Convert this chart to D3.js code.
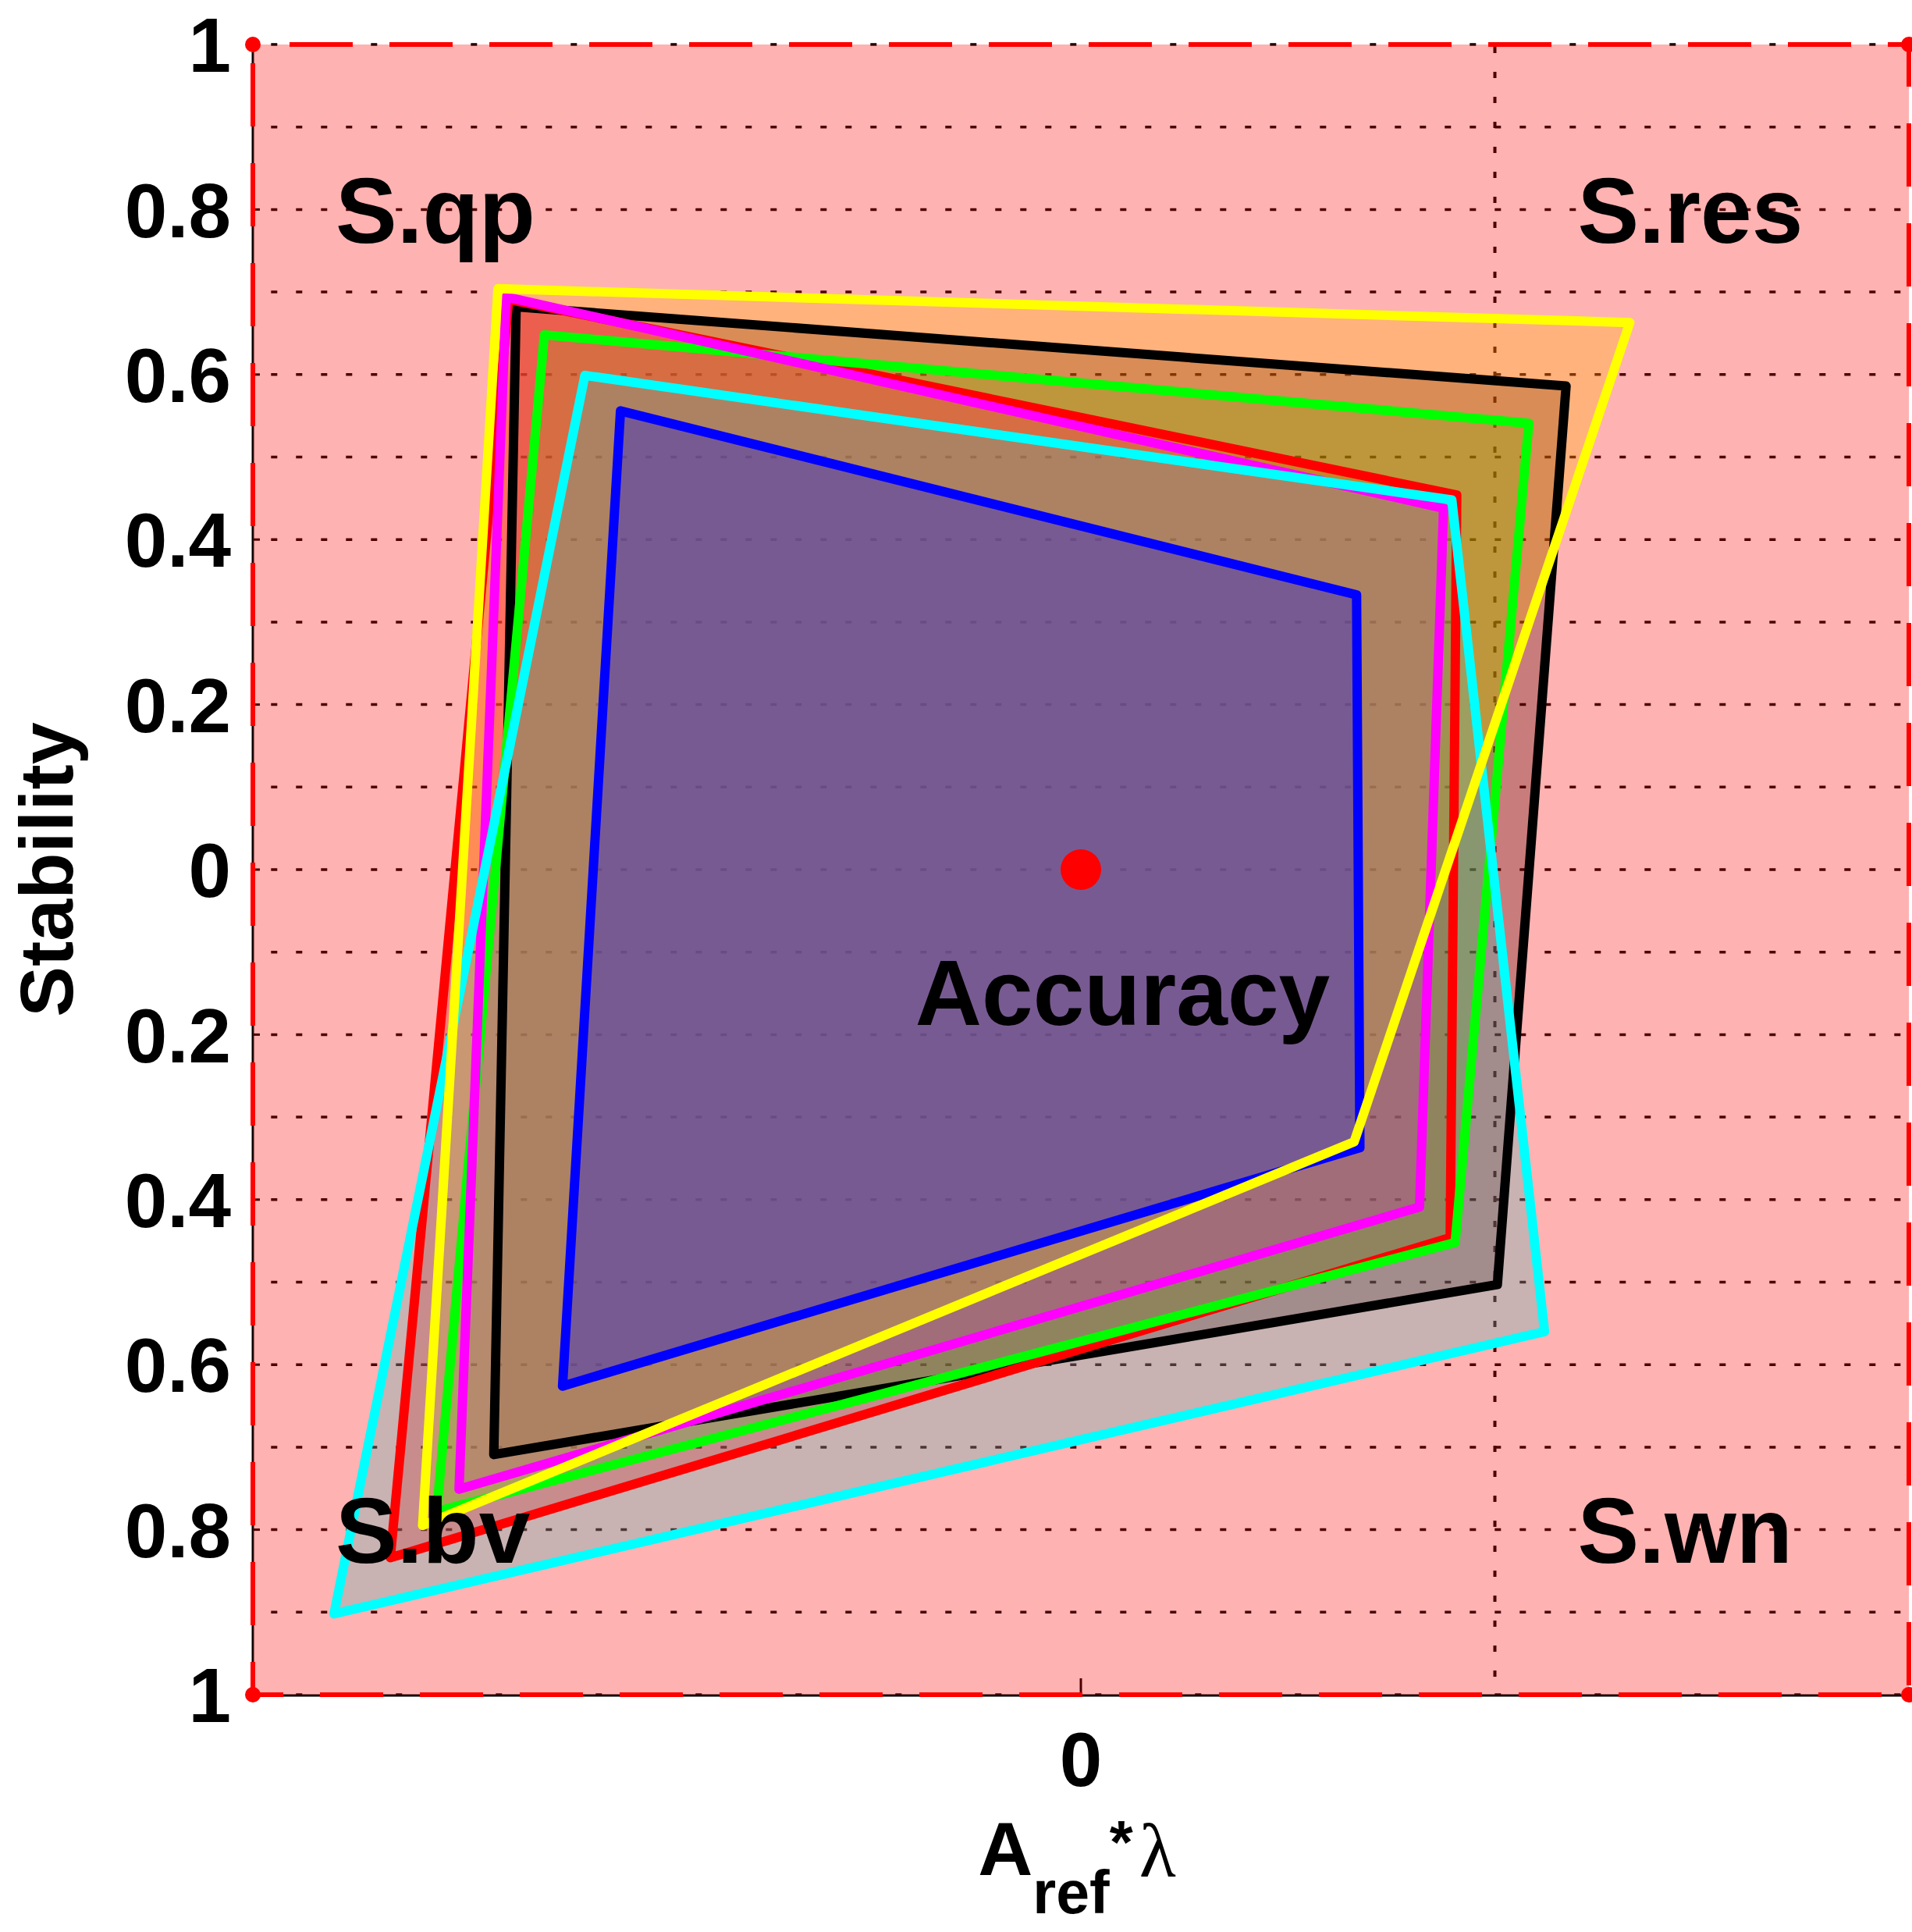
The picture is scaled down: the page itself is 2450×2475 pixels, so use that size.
<!DOCTYPE html>
<html>
<head>
<meta charset="utf-8">
<script src="https://cdn.jsdelivr.net/npm/d3@7"></script>
<style>
  html, body { margin: 0; padding: 0; background: #ffffff; }
  svg { display: block; }
  text { font-family: "Liberation Sans", Arial, sans-serif; }
</style>
</head>
<body>
<svg id="chart" width="2450" height="2475"></svg>
<script>
// ---------------- data ----------------
const axisNames   = ["S.qp", "S.res", "S.wn", "S.bv"];
const seriesColors = ["#000000", "#ff0000", "#ff00ff", "#00ff00", "#00ffff", "#0000ff", "#ffff00"];
const valuesQp  = [0.682, 0.691, 0.694, 0.648, 0.599, 0.556, 0.704];
const valuesRes = [0.586, 0.454, 0.438, 0.541, 0.448, 0.333, 0.663];
const valuesWn  = [0.503, 0.446, 0.409, 0.452, 0.560, 0.337, 0.330];
const valuesBv  = [0.709, 0.834, 0.751, 0.778, 0.902, 0.626, 0.795];
const yTicks      = [1, 0.8, 0.6, 0.4, 0.2, 0, -0.2, -0.4, -0.6, -0.8, -1];
const yTickLabels = ["1", "0.8", "0.6", "0.4", "0.2", "0", "0.2", "0.4", "0.6", "0.8", "1"];
const xTicks      = [0];
const xTickLabels = ["0"];
const yGrid = [1, 0.9, 0.8, 0.7, 0.6, 0.5, 0.4, 0.3, 0.2, 0.1, 0, -0.1, -0.2, -0.3, -0.4, -0.5, -0.6, -0.7, -0.8, -0.9, -1];
const xGrid = [0.5];

// drawing orders (indices into series)
const fillOrderUnder = [0, 1, 3, 2, 6, 4]; // fills below the translucent red square
const fillOrderOver  = [5];                // fills above it
const lineOrder = [0, 1, 3, 2, 4, 5, 6];

// ---------------- layout ----------------
const svg = d3.select("#chart");
const x = d3.scaleLinear().domain([-1, 1]).range([324, 2446]);
const y = d3.scaleLinear().domain([-1, 1]).range([2171, 57]);

// axis directions for each radar spoke (diagonals)
const dirs = [[-1, 1], [1, 1], [1, -1], [-1, -1]];
const series = seriesColors.map((c, i) => ({
  color: c,
  vals: [valuesQp[i], valuesRes[i], valuesWn[i], valuesBv[i]]
}));
const polyPoints = s => s.vals.map((v, k) => [x(dirs[k][0] * v), y(dirs[k][1] * v)]);
const line = d3.line().curve(d3.curveLinearClosed);

// grid (black, under translucent layers)
const g = svg.append("g");
g.selectAll("line.hg").data(yGrid).join("line")
  .attr("x1", x(-1)).attr("x2", x(1))
  .attr("y1", d => y(d)).attr("y2", d => y(d))
  .attr("stroke", "#000").attr("stroke-width", 3.5)
  .attr("stroke-dasharray", "8,24").attr("stroke-dashoffset", 8.7);
g.selectAll("line.vg").data(xGrid).join("line")
  .attr("x1", d => x(d)).attr("x2", d => x(d))
  .attr("y1", y(1)).attr("y2", y(-1))
  .attr("stroke", "#000").attr("stroke-width", 4)
  .attr("stroke-dasharray", "8,24").attr("stroke-dashoffset", -3);

// axis lines and ticks
g.append("line").attr("x1", x(-1)).attr("x2", x(-1)).attr("y1", y(1)).attr("y2", y(-1) + 1.5)
  .attr("stroke", "#000").attr("stroke-width", 3);
g.append("line").attr("x1", x(-1)).attr("x2", x(1)).attr("y1", y(-1) + 1).attr("y2", y(-1) + 1)
  .attr("stroke", "#000").attr("stroke-width", 3);
g.selectAll("line.yt").data(yTicks).join("line")
  .attr("x1", x(-1)).attr("x2", x(-1) + 9)
  .attr("y1", d => y(d)).attr("y2", d => y(d))
  .attr("stroke", "#000").attr("stroke-width", 3);
g.selectAll("line.xt").data(xTicks).join("line")
  .attr("x1", d => x(d)).attr("x2", d => x(d))
  .attr("y1", y(-1)).attr("y2", y(-1) - 21)
  .attr("stroke", "#000").attr("stroke-width", 3);

// polygon fills (under)
const fills = svg.append("g");
fillOrderUnder.forEach(i => {
  fills.append("path").attr("d", line(polyPoints(series[i])))
    .attr("fill", series[i].color).attr("fill-opacity", 0.3).attr("stroke", "none");
});

// big translucent red square
svg.append("path")
  .attr("d", line([[x(-1), y(1)], [x(1), y(1)], [x(1), y(-1)], [x(-1), y(-1)]]))
  .attr("fill", "#ff0000").attr("fill-opacity", 0.3);

// polygon fills (over)
const fills2 = svg.append("g");
fillOrderOver.forEach(i => {
  fills2.append("path").attr("d", line(polyPoints(series[i])))
    .attr("fill", series[i].color).attr("fill-opacity", 0.3).attr("stroke", "none");
});

// polygon outlines
const lines = svg.append("g");
lineOrder.forEach(i => {
  lines.append("path").attr("d", line(polyPoints(series[i])))
    .attr("fill", "none").attr("stroke", series[i].color)
    .attr("stroke-width", 12).attr("stroke-linejoin", "round").attr("stroke-linecap", "round");
});

// red dashed boundary with corner markers
const corners = [[-1, 1], [1, 1], [1, -1], [-1, -1]];
svg.append("path")
  .attr("d", line(corners.map(c => [x(c[0]), y(c[1])])))
  .attr("fill", "none").attr("stroke", "#ff0000").attr("stroke-width", 6)
  .attr("stroke-dasharray", "81,47").attr("stroke-dashoffset", 81);
svg.selectAll("circle.corner").data(corners).join("circle")
  .attr("cx", d => x(d[0])).attr("cy", d => y(d[1])).attr("r", 10).attr("fill", "#ff0000");

// centre point
svg.append("circle").attr("cx", x(0)).attr("cy", y(0)).attr("r", 26).attr("fill", "#ff0000");

// tick labels
svg.selectAll("text.yl").data(yTicks).join("text")
  .attr("x", x(-1) - 28).attr("y", d => y(d))
  .attr("dy", "0.36em").attr("text-anchor", "end")
  .attr("font-size", 98).attr("font-weight", "bold").attr("fill", "#000")
  .text((d, i) => yTickLabels[i]);
svg.selectAll("text.xl").data(xTicks).join("text")
  .attr("x", d => x(d)).attr("y", 2288).attr("text-anchor", "middle")
  .attr("font-size", 98).attr("font-weight", "bold").attr("fill", "#000")
  .text((d, i) => xTickLabels[i]);

// axis labels
svg.append("text")
  .attr("transform", `translate(93,${y(0)}) rotate(-90)`)
  .attr("text-anchor", "middle").attr("font-size", 97).attr("font-weight", "bold")
  .text("Stability");

const xl = svg.append("text").attr("x", 1380).attr("y", 2402).attr("text-anchor", "middle")
  .attr("font-weight", "bold").attr("fill", "#000");
xl.append("tspan").attr("font-size", 97).text("A");
xl.append("tspan").attr("font-size", 77).attr("dy", 49).text("ref");
xl.append("tspan").attr("font-size", 77).attr("dy", -64).text("*");
xl.append("tspan").attr("font-size", 97).attr("dy", 17).attr("dx", 8)
  .attr("font-weight", "normal").attr("font-family", "'Liberation Serif', 'DejaVu Serif', serif").text("λ");

// spoke labels
const labelPos = [[-0.9, 0.8, "start"], [0.6, 0.8, "start"], [0.6, -0.8, "start"], [-0.9, -0.8, "start"]];
svg.selectAll("text.ax").data(axisNames).join("text")
  .attr("x", (d, i) => x(labelPos[i][0])).attr("y", (d, i) => y(labelPos[i][1]))
  .attr("dy", "0.36em").attr("text-anchor", (d, i) => labelPos[i][2])
  .attr("font-size", 118).attr("font-weight", "bold").attr("fill", "#000")
  .text(d => d);

svg.append("text").attr("x", x(-0.2)).attr("y", y(-0.148)).attr("dy", "0.36em")
  .attr("font-size", 118).attr("font-weight", "bold").attr("fill", "#000")
  .text("Accuracy");
</script>
</body>
</html>
